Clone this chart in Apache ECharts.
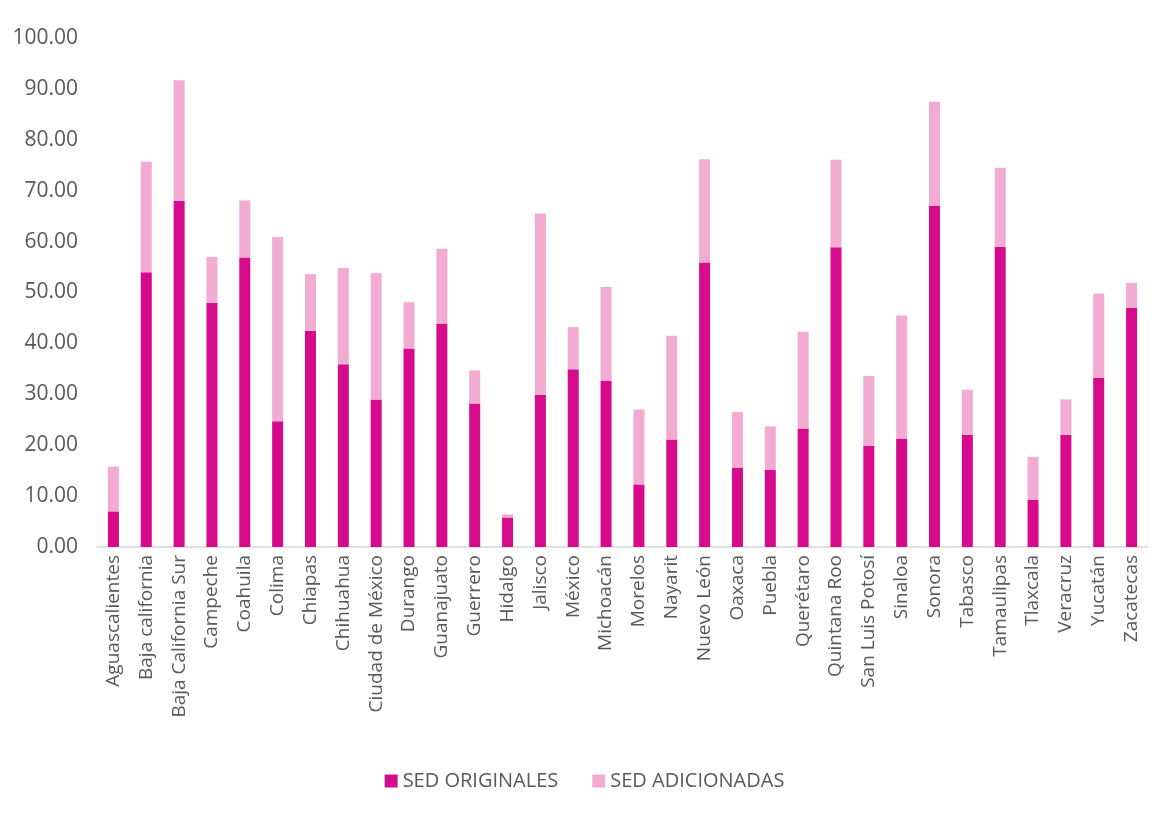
<!DOCTYPE html>
<html>
<head>
<meta charset="utf-8">
<script src="https://cdn.jsdelivr.net/npm/echarts@6/dist/echarts.min.js"></script>
<style>
  html, body { margin: 0; padding: 0; background: #fff; }
  #chart { width: 1169px; height: 816px; }
</style>
</head>
<body>
<div id="chart"></div>
<script>
// States
const states = [
  'Aguascalientes', 'Baja california', 'Baja California Sur', 'Campeche', 'Coahuila',
  'Colima', 'Chiapas', 'Chihuahua', 'Ciudad de México', 'Durango', 'Guanajuato',
  'Guerrero', 'Hidalgo', 'Jalisco', 'México', 'Michoacán', 'Morelos', 'Nayarit',
  'Nuevo León', 'Oaxaca', 'Puebla', 'Querétaro', 'Quintana Roo', 'San Luis Potosí',
  'Sinaloa', 'Sonora', 'Tabasco', 'Tamaulipas', 'Tlaxcala', 'Veracruz', 'Yucatán', 'Zacatecas'
]

// SED originales (lower segment)
const originales = [
  7.0, 54.0, 68.0, 48.0, 56.9, 24.7, 42.5, 35.9, 29.0, 39.0, 43.9,
  28.2, 5.8, 29.9, 34.9, 32.6, 12.3, 21.1, 55.9, 15.6, 15.2, 23.3,
  58.9, 19.9, 21.3, 67.0, 22.0, 59.0, 9.3, 22.0, 33.2, 47.0
]

// Totals (top of each stacked bar)
const totales = [
  15.8, 75.7, 91.7, 57.0, 68.1, 60.9, 53.6, 54.8, 53.8, 48.1, 58.6,
  34.7, 6.4, 65.5, 43.2, 51.1, 27.0, 41.5, 76.2, 26.5, 23.7, 42.3,
  76.1, 33.6, 45.5, 87.5, 30.9, 74.5, 17.7, 29.0, 49.8, 51.9
]

// SED adicionadas (upper segment)
const adicionadas = totales.map((t, i) => +(t - originales[i]).toFixed(2))

const font = 'Open Sans'
const textColor = '#595959'

const chart = echarts.init(document.getElementById('chart'))
chart.setOption({
  animation: false,
  textStyle: { fontFamily: font },
  grid: { left: 97, right: 21, top: 38, bottom: 269, containLabel: false },
  legend: {
    bottom: 20,
    left: 'center',
    itemWidth: 13,
    itemHeight: 13,
    itemGap: 34,
    icon: 'rect',
    textStyle: { fontFamily: font, fontSize: 20, color: textColor },
    data: ['SED ORIGINALES', 'SED ADICIONADAS']
  },
  xAxis: {
    type: 'category',
    data: states,
    axisLine: { lineStyle: { color: '#d9d9d9', width: 1.5 } },
    axisTick: { show: false },
    axisLabel: {
      rotate: 90,
      interval: 0,
      fontFamily: font,
      fontSize: 19,
      color: textColor,
      margin: 8
    }
  },
  yAxis: {
    type: 'value',
    min: 0,
    max: 100,
    interval: 10,
    splitLine: { show: false },
    axisLine: { show: false },
    axisTick: { show: false },
    axisLabel: {
      fontFamily: font,
      fontSize: 21,
      color: textColor,
      margin: 19,
      formatter: v => v.toFixed(2)
    }
  },
  series: [
    {
      name: 'SED ORIGINALES',
      type: 'bar',
      stack: 'sed',
      barWidth: 11,
      itemStyle: { color: '#d60b8c' },
      data: originales
    },
    {
      name: 'SED ADICIONADAS',
      type: 'bar',
      stack: 'sed',
      barWidth: 11,
      itemStyle: { color: '#f2abd2' },
      data: adicionadas
    }
  ]
})
</script>
</body>
</html>
